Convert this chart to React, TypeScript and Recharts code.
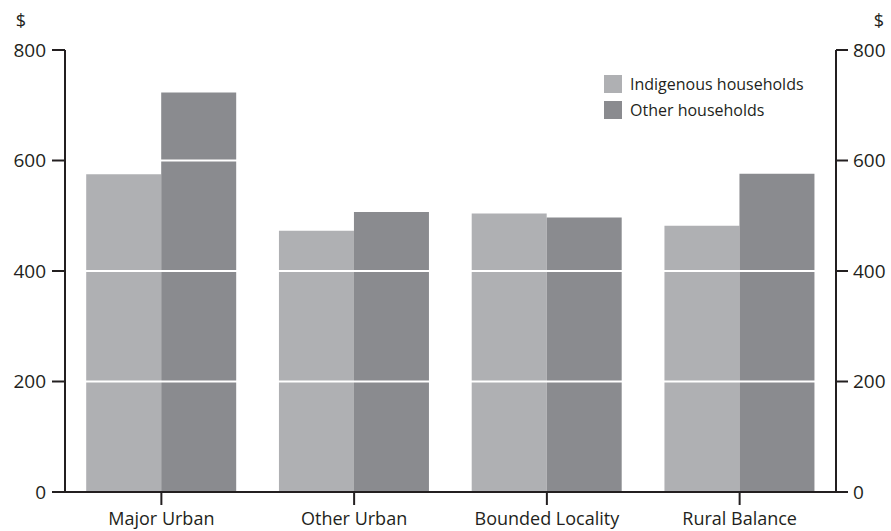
import { BarChart, Bar, XAxis, YAxis, Legend, ReferenceLine } from "recharts";

const regions = ["Major Urban", "Other Urban", "Bounded Locality", "Rural Balance"];
const indigenous = [575, 473, 504, 482];
const other = [723, 507, 497, 576];
const yTicks = [0, 200, 400, 600, 800];
const whiteLines = [200, 400, 600];

const INK = "#231f20";
const FONT = "'Open Sans', sans-serif";

const data = regions.map((name, i) => ({
  name,
  indigenous: indigenous[i],
  other: other[i],
}));

const legendItems = [
  { label: "Indigenous households", color: "#afb0b3" },
  { label: "Other households", color: "#8a8b8f" },
];

const renderLegend = () => (
  <div style={{ fontFamily: FONT, fontSize: 16, color: INK }}>
    {legendItems.map((item) => (
      <div
        key={item.label}
        style={{ display: "flex", alignItems: "center", height: 26 }}
      >
        <span
          style={{
            width: 18,
            height: 18,
            background: item.color,
            display: "inline-block",
            marginRight: 8,
          }}
        />
        <span>{item.label}</span>
      </div>
    ))}
  </div>
);

const dollar = (dx: number) => ({ viewBox }: any) => (
  <text
    x={viewBox.x + dx}
    y={viewBox.y - 23}
    textAnchor="middle"
    fill={INK}
    fontSize={18}
    fontFamily={FONT}
  >
    $
  </text>
);

const axisStyle = { stroke: INK, strokeWidth: 2 };

const App = () => {
  return (
    <div style={{ position: "absolute", left: 0, top: 0, background: "#fff" }}>
      <BarChart
        width={891}
        height={531}
        data={data}
        margin={{ top: 50, right: 5, bottom: 9, left: 15 }}
        barCategoryGap="11%"
        barGap={0}
      >
        <XAxis
          dataKey="name"
          axisLine={axisStyle}
          tickLine={axisStyle}
          tickSize={13}
          tickMargin={7}
          height={30}
          tick={{ fill: INK, fontSize: 18, fontFamily: FONT }}
        />
        <YAxis
          yAxisId="left"
          domain={[0, 800]}
          ticks={yTicks}
          width={50}
          axisLine={axisStyle}
          tickLine={axisStyle}
          tickSize={13}
          tickMargin={6}
          tick={{ fill: INK, fontSize: 19, fontFamily: FONT }}
          label={{ content: dollar(6) }}
        />
        <YAxis
          yAxisId="right"
          orientation="right"
          domain={[0, 800]}
          ticks={yTicks}
          width={50}
          axisLine={axisStyle}
          tickLine={axisStyle}
          tickSize={12}
          tickMargin={5}
          tick={{ fill: INK, fontSize: 19, fontFamily: FONT }}
          label={{ content: dollar(43) }}
        />
        <Legend
          layout="horizontal"
          verticalAlign="middle"
          align="center"
          wrapperStyle={{ left: 604, top: 71, width: 220 }}
          content={renderLegend}
        />
        <Bar
          yAxisId="left"
          dataKey="indigenous"
          name="Indigenous households"
          fill="#afb0b3"
          isAnimationActive={false}
        />
        <Bar
          yAxisId="right"
          dataKey="other"
          name="Other households"
          fill="#8a8b8f"
          isAnimationActive={false}
        />
        {whiteLines.map((v) => (
          <ReferenceLine
            key={v}
            yAxisId="left"
            y={v}
            stroke="#ffffff"
            strokeWidth={2}
          />
        ))}
      </BarChart>
    </div>
  );
};

export default App;
